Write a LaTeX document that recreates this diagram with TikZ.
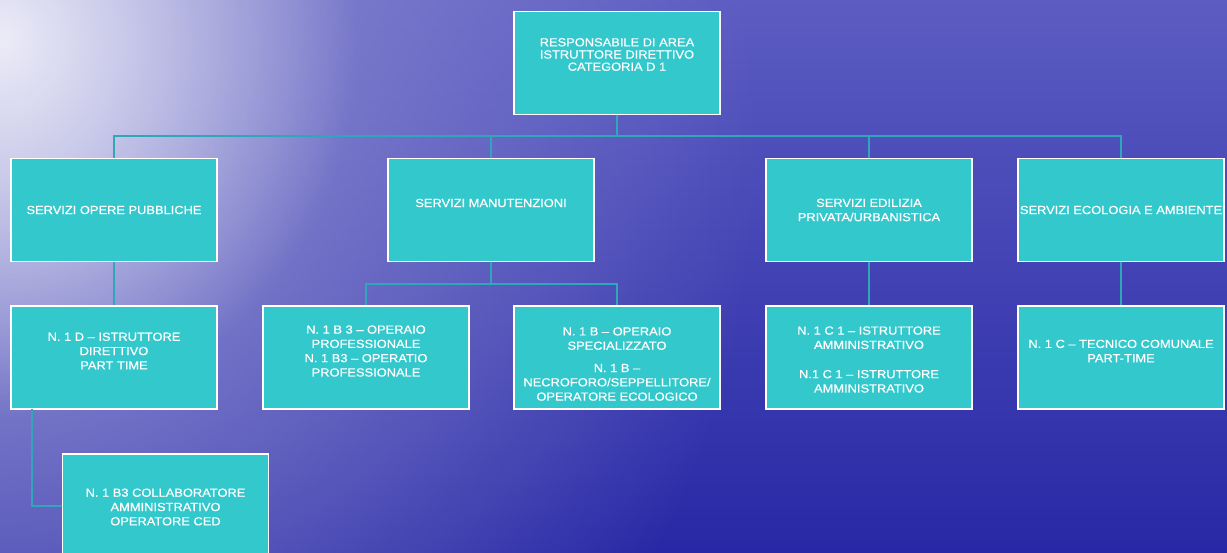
\documentclass[tikz,border=0pt]{standalone}
\usepackage{fontspec}
\newfontfamily\boxfont[FakeStretch=1.1,FakeBold=0.5]{Liberation Sans}
\usetikzlibrary{fadings}
\definecolor{boxfill}{RGB}{51,200,204}
\definecolor{linecol}{RGB}{48,166,186}
\definecolor{bgtop}{RGB}{92,92,194}
\definecolor{bgmid}{RGB}{52,52,172}
\definecolor{bgbot}{RGB}{40,40,166}
\definecolor{glow}{RGB}{236,236,248}
\definecolor{haze}{RGB}{146,146,212}
\tikzfading[name=radfade, inner color=transparent!0, outer color=transparent!100]
\begin{document}
\begin{tikzpicture}[x=1pt,y=-1pt,
  box/.style={draw=white, line width=1.8pt, fill=boxfill, minimum width=206pt, minimum height=103pt, inner sep=0pt},
  lbl/.style={text=white, align=center, font=\boxfont\fontsize{11.7}{14.3}\selectfont, inner sep=0pt},
  conn/.style={draw=linecol, line width=2pt},
]
\useasboundingbox (0,0) rectangle (1227,553);
% background
\shade[top color=bgtop, middle color=bgmid, bottom color=bgbot] (0,0) rectangle (1227,553);
\fill[haze, path fading=radfade] (0,140) ellipse [x radius=760pt, y radius=820pt];
\fill[glow, path fading=radfade] (0,40) ellipse [x radius=360pt, y radius=380pt];

% boxes
\node[box, label={[lbl, font=\boxfont\fontsize{11.7}{12.2}\selectfont, yshift=8.5pt]center:{RESPONSABILE DI AREA\\ISTRUTTORE DIRETTIVO\\CATEGORIA D 1}}] (top) at (617,63) {};

\node[box, label={[lbl]center:{SERVIZI OPERE PUBBLICHE}}] (opere) at (114,210) {};
\node[box, label={[lbl, yshift=7pt]center:{SERVIZI MANUTENZIONI}}] (manut) at (491,210) {};
\node[box, label={[lbl]center:{SERVIZI EDILIZIA\\PRIVATA/URBANISTICA}}] (edil) at (869,210) {};
\node[box, label={[lbl]center:{SERVIZI ECOLOGIA E AMBIENTE}}] (ecol) at (1121,210) {};

\node[box, label={[lbl, yshift=6.5pt]center:{N. 1 D – ISTRUTTORE\\DIRETTIVO\\PART TIME}}] (a3) at (114,357.5) {};
\node[box, label={[lbl, yshift=6.5pt]center:{N. 1 B 3 – OPERAIO\\PROFESSIONALE\\N. 1 B3 – OPERATIO\\PROFESSIONALE}}] (b3a) at (366,357.5) {};
\node[box, label={[lbl, yshift=-6.5pt]center:{N. 1 B – OPERAIO\\SPECIALIZZATO\\[8pt]N. 1 B –\\NECROFORO/SEPPELLITORE/\\OPERATORE ECOLOGICO}}] (b3b) at (617,357.5) {};
\node[box, label={[lbl, yshift=-2pt]center:{N. 1 C 1 – ISTRUTTORE\\AMMINISTRATIVO\\[15pt]N.1 C 1 – ISTRUTTORE\\AMMINISTRATIVO}}] (c3) at (869,357.5) {};
\node[box, label={[lbl, yshift=6.5pt]center:{N. 1 C – TECNICO COMUNALE\\PART-TIME}}] (d3) at (1121,357.5) {};

\node[box, label={[lbl, yshift=-1.5pt]center:{N. 1 B3 COLLABORATORE\\AMMINISTRATIVO\\OPERATORE CED}}] (ced) at (165.5,505.5) {};

% connectors
\coordinate (bus) at (617,136);
\coordinate (bus2) at (491,284);
\coordinate (cedl) at (32,409);
\draw[conn] (top.south) -- (bus);
\draw[conn] (opere.north) |- (bus) -| (ecol.north);
\draw[conn] (manut.north) -- (manut.north |- bus);
\draw[conn] (edil.north) -- (edil.north |- bus);
\draw[conn] (manut.south) -- (bus2);
\draw[conn] (b3a.north) |- (bus2) -| (b3b.north);
\draw[conn] (opere.south) -- (a3.north);
\draw[conn] (edil.south) -- (c3.north);
\draw[conn] (ecol.south) -- (d3.north);
\draw[conn] (cedl) |- (ced.west);
\end{tikzpicture}
\end{document}
